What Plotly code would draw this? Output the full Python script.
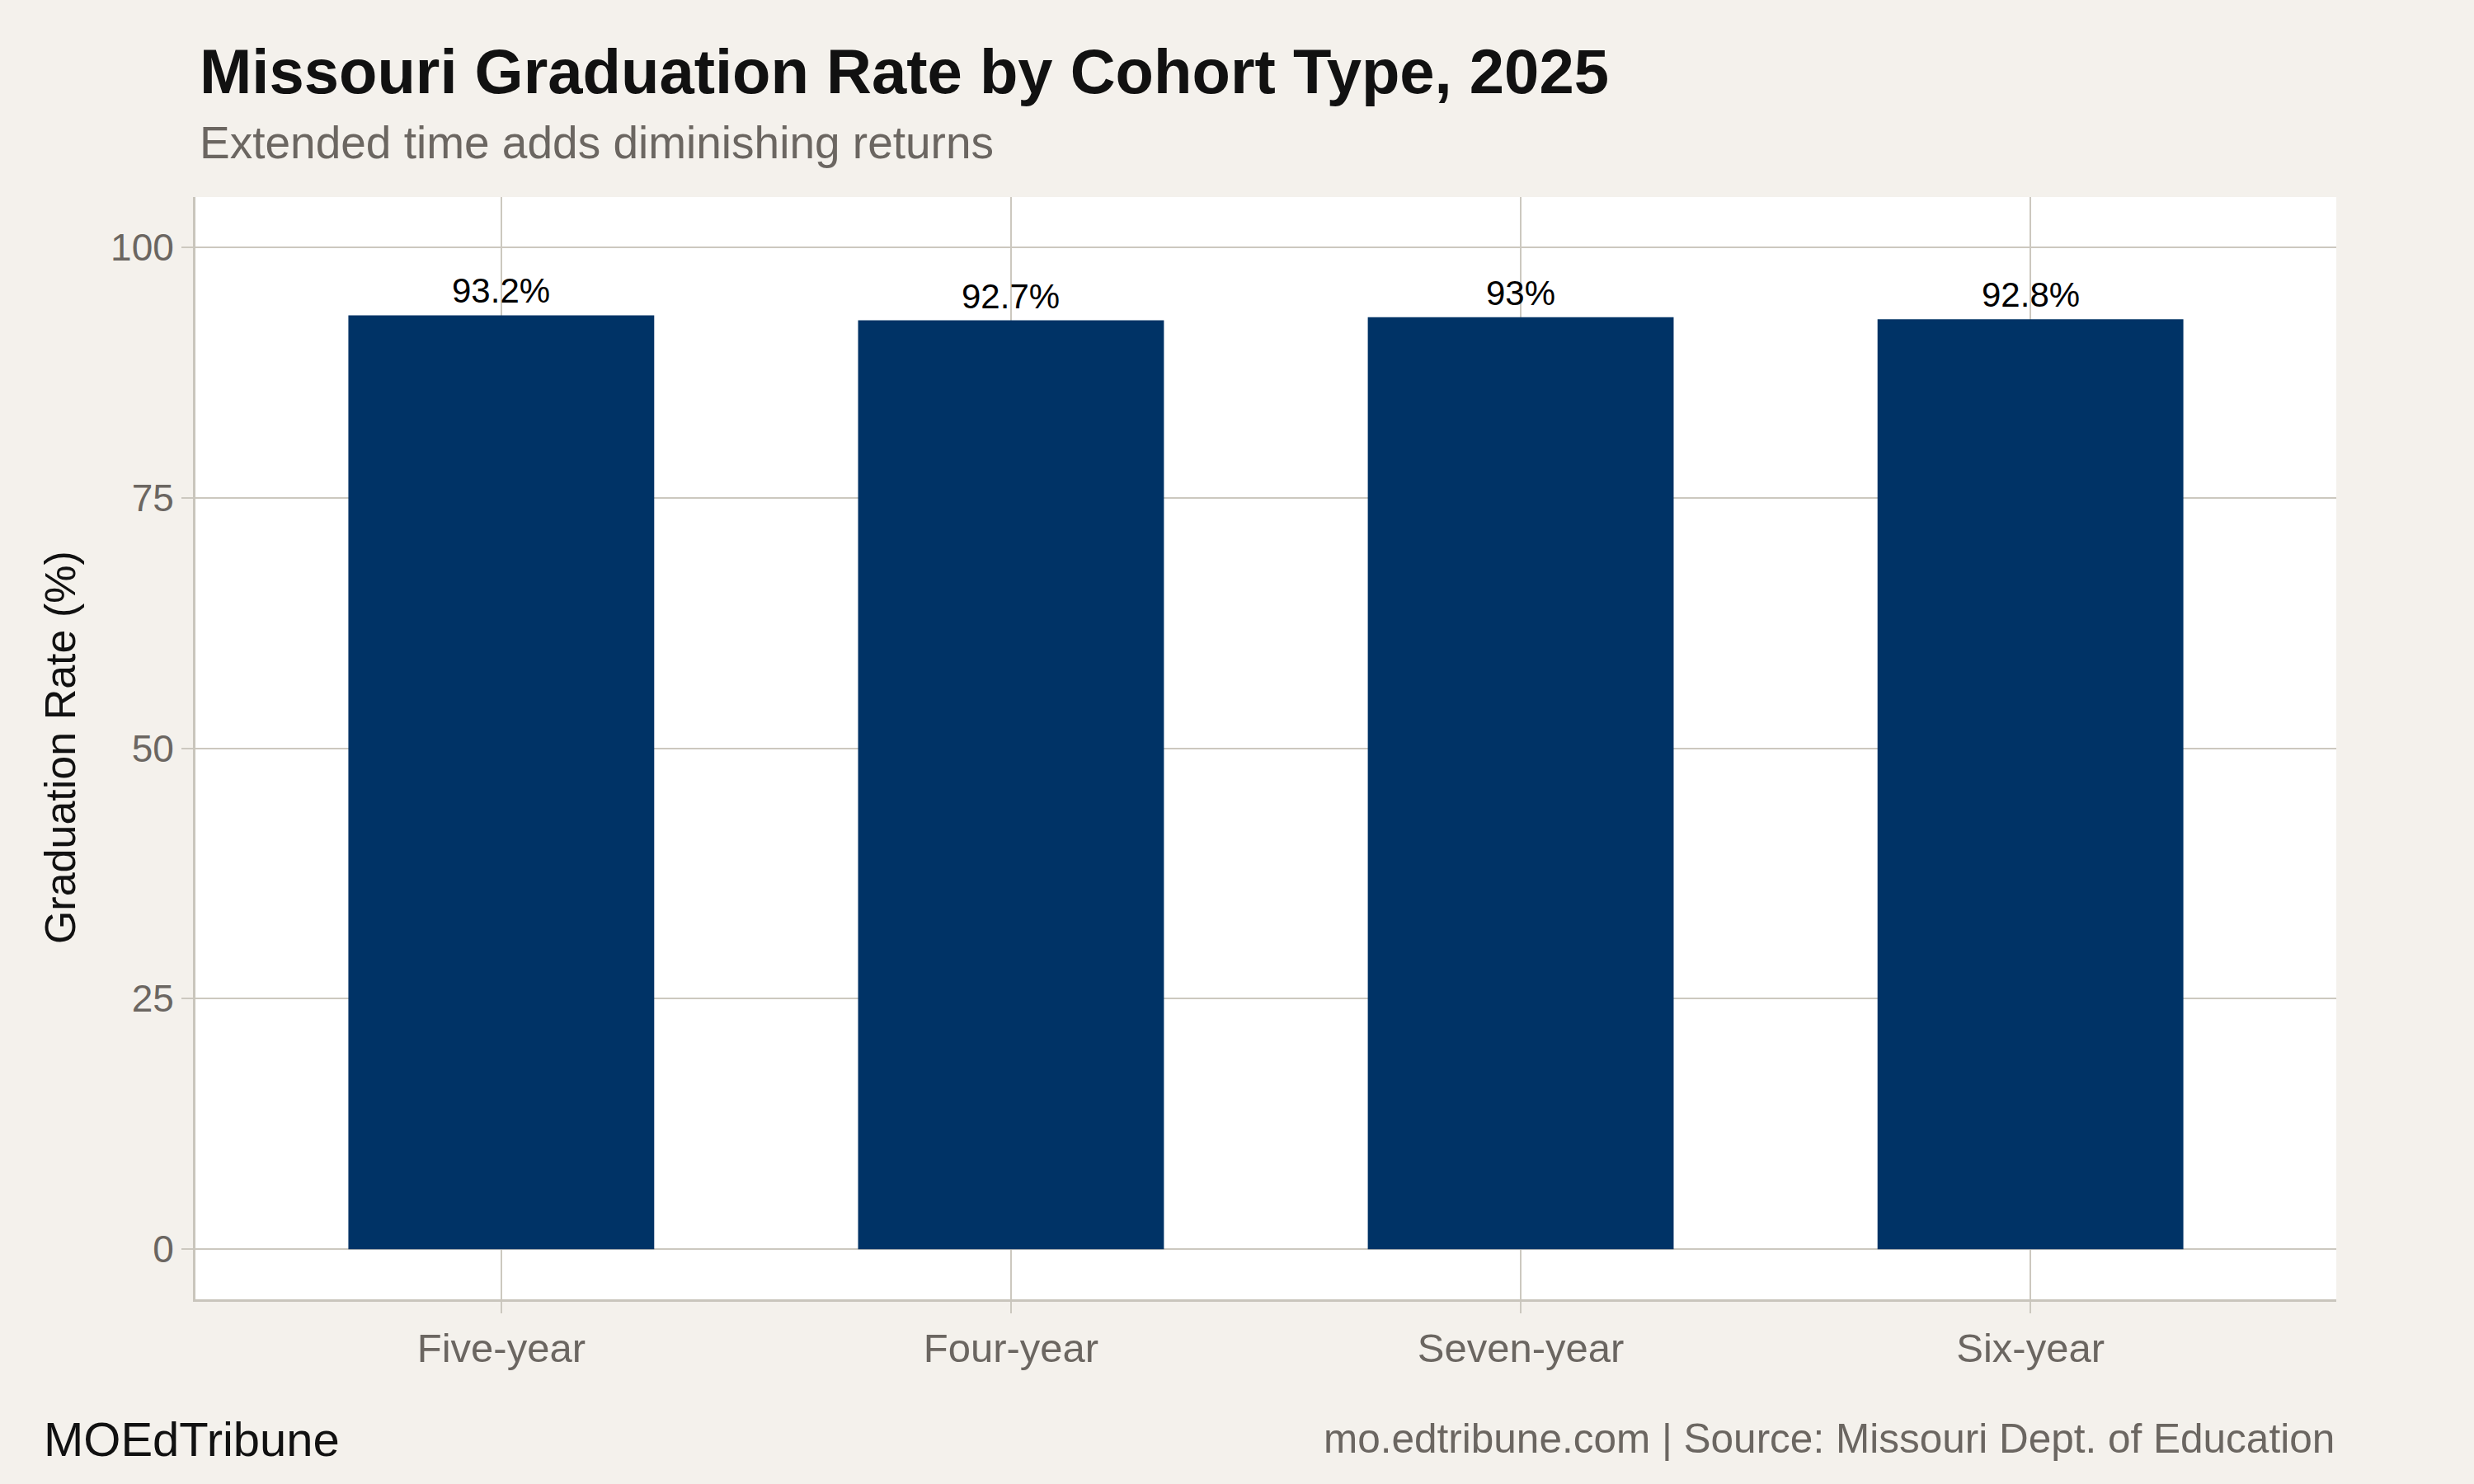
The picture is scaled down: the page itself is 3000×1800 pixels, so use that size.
import plotly.graph_objects as go

categories = ["Five-year", "Four-year", "Seven-year", "Six-year"]
rates = [93.2, 92.7, 93.0, 92.8]
y_ticks = [0, 25, 50, 75, 100]

title = "Missouri Graduation Rate by Cohort Type, 2025"
subtitle = "Extended time adds diminishing returns"
y_title = "Graduation Rate (%)"
caption_left = "MOEdTribune"
caption_right = "mo.edtribune.com | Source: Missouri Dept. of Education"

BG = "#F4F1EC"
GRID = "#CCC8BF"
AXIS = "#C9C5BC"
TICKTXT = "#6B6661"
BAR = "#003366"
FONT = "Liberation Sans"

labels = [f"{v:g}%" for v in rates]

fig = go.Figure()
fig.add_trace(go.Bar(x=categories, y=rates, marker=dict(color=BAR, line=dict(width=0)),
                     width=0.6, hoverinfo="skip"))

for c, v, t in zip(categories, rates, labels):
    fig.add_annotation(x=c, y=v, xref="x", yref="y", text=t, showarrow=False,
                       yanchor="bottom", yshift=4,
                       font=dict(family=FONT, size=42, color="#000000"))

fig.add_annotation(text=f"<b>{title}</b>", xref="paper", yref="paper", x=0.001, y=1.1144,
                   xanchor="left", yanchor="middle", showarrow=False,
                   font=dict(family=FONT, size=76, color="#111111"))
fig.add_annotation(text=subtitle, xref="paper", yref="paper", x=0.001, y=1.0494,
                   xanchor="left", yanchor="middle", showarrow=False,
                   font=dict(family=FONT, size=55, color=TICKTXT))
fig.add_annotation(text=caption_left, xref="paper", yref="paper", x=-0.0715, y=-0.1271,
                   xanchor="left", yanchor="middle", showarrow=False,
                   font=dict(family=FONT, size=58, color="#111111"))
fig.add_annotation(text=caption_right, xref="paper", yref="paper", x=1.0, y=-0.1257,
                   xanchor="right", yanchor="middle", showarrow=False,
                   font=dict(family=FONT, size=49.5, color=TICKTXT))
fig.add_annotation(text=y_title, xref="paper", yref="paper", x=-0.0632, y=0.501,
                   xanchor="center", yanchor="middle", textangle=-90, showarrow=False,
                   font=dict(family=FONT, size=52, color="#111111"))

fig.update_layout(
    width=3000, height=1800,
    paper_bgcolor=BG, plot_bgcolor="#FFFFFF",
    margin=dict(l=237, r=167, t=239, b=224, pad=0),
    showlegend=False,
    font=dict(family=FONT),
    bargap=0.4,
)
fig.update_xaxes(
    type="category", range=[-0.6, 3.6],
    showgrid=True, gridcolor=GRID, gridwidth=2,
    showline=True, linecolor=AXIS, linewidth=3,
    ticks="outside", ticklen=14, tickwidth=2, tickcolor=GRID,
    tickfont=dict(family=FONT, size=49, color=TICKTXT),
    zeroline=False, fixedrange=True,
)
fig.update_yaxes(
    range=[-5, 105], tickvals=y_ticks,
    showgrid=True, gridcolor=GRID, gridwidth=2,
    showline=True, linecolor=AXIS, linewidth=3,
    ticks="outside", ticklen=14, tickwidth=2, tickcolor=GRID,
    tickfont=dict(family=FONT, size=46, color=TICKTXT),
    zeroline=False, fixedrange=True,
)

fig.write_html("out.html")
